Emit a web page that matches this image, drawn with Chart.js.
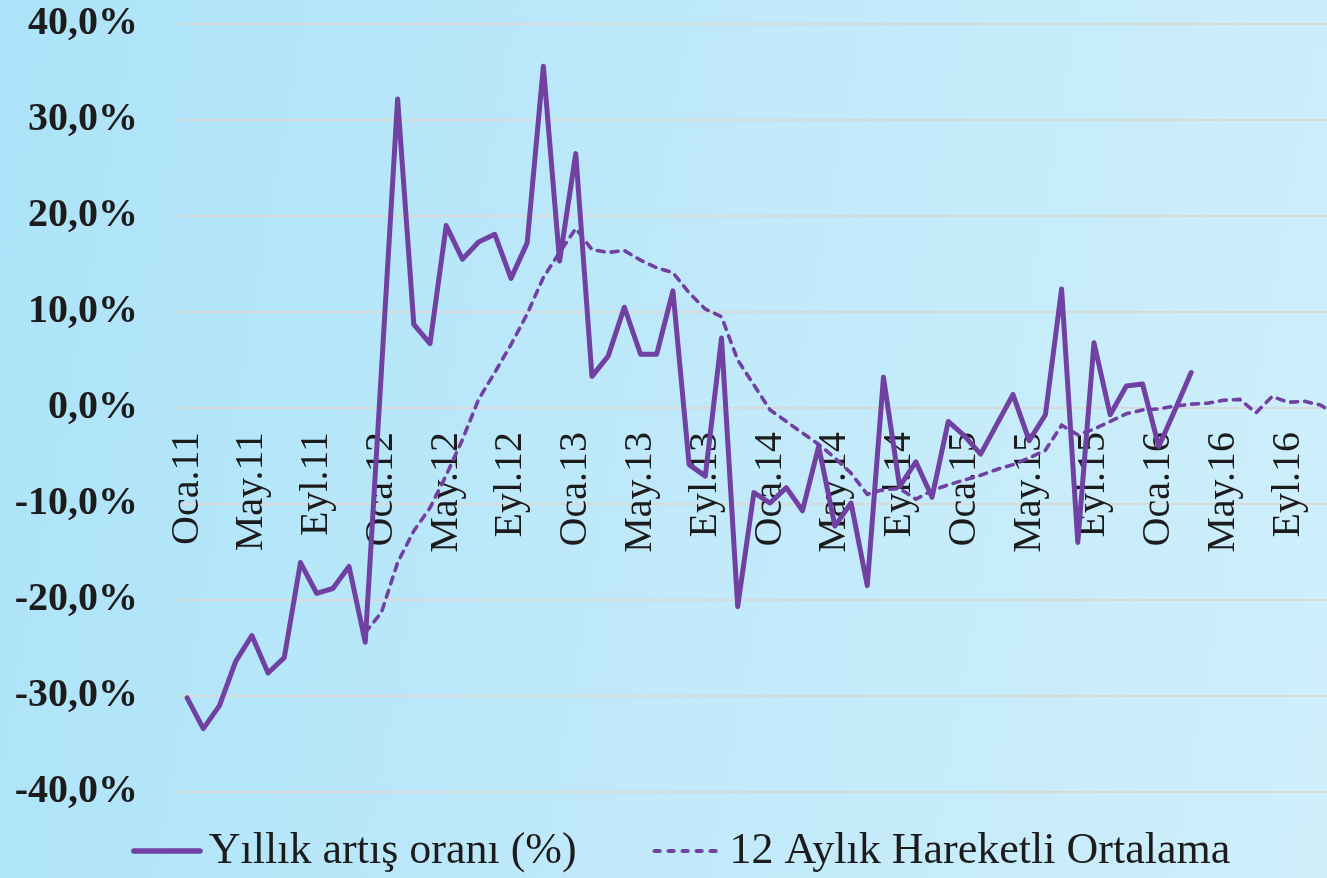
<!DOCTYPE html>
<html lang="tr">
<head>
<meta charset="utf-8">
<title>Yıllık artış oranı</title>
<script src="https://cdn.jsdelivr.net/npm/chart.js@4.4.0/dist/chart.umd.min.js"></script>
<style>
  html, body { margin: 0; padding: 0; width: 1327px; height: 878px; overflow: hidden;
    background: linear-gradient(100deg, #ace3f8 0%, #bfe9fa 50%, #cfeffb 100%); }
  #wrap { position: absolute; left: 0; top: 0; width: 1376px; height: 878px; }
</style>
</head>
<body>
<div id="wrap"><canvas id="c" width="1376" height="878"></canvas></div>
<script>
// ---- categories (Jan 2011 - Dec 2016) ----
const categories = [
  'Oca.11','Şub.11','Mar.11','Nis.11','May.11','Haz.11','Tem.11','Ağu.11','Eyl.11','Eki.11','Kas.11','Ara.11',
  'Oca.12','Şub.12','Mar.12','Nis.12','May.12','Haz.12','Tem.12','Ağu.12','Eyl.12','Eki.12','Kas.12','Ara.12',
  'Oca.13','Şub.13','Mar.13','Nis.13','May.13','Haz.13','Tem.13','Ağu.13','Eyl.13','Eki.13','Kas.13','Ara.13',
  'Oca.14','Şub.14','Mar.14','Nis.14','May.14','Haz.14','Tem.14','Ağu.14','Eyl.14','Eki.14','Kas.14','Ara.14',
  'Oca.15','Şub.15','Mar.15','Nis.15','May.15','Haz.15','Tem.15','Ağu.15','Eyl.15','Eki.15','Kas.15','Ara.15',
  'Oca.16','Şub.16','Mar.16','Nis.16','May.16','Haz.16','Tem.16','Ağu.16','Eyl.16','Eki.16','Kas.16','Ara.16'
];

// ---- series: yearly growth rate (%) ----
const yillikArtis = [
  -30.2, -33.4, -31.0, -26.4, -23.7, -27.6, -26.0, -16.1, -19.3, -18.8, -16.5, -24.4,
    3.9,  32.2,   8.7,   6.7,  19.0,  15.5,  17.3,  18.1,  13.5,  17.2,  35.6,  15.3,
   26.5,   3.3,   5.4,  10.5,   5.6,   5.6,  12.2,  -5.9,  -7.1,   7.3, -20.7,  -8.8,
   -9.9,  -8.3, -10.7,  -4.0, -12.3,  -9.9, -18.5,   3.2,  -8.2,  -5.6,  -9.3,  -1.4,
   -2.9,  -4.8,  -1.7,   1.4,  -3.4,  -0.7,  12.4, -14.0,   6.8,  -0.7,   2.3,   2.5,
   -4.0,  -0.2,   3.7,  null,  null,  null,  null,  null,  null,  null,  null,  null
];

// ---- series: 12-month moving average (%) ----
const hareketliOrtalama = [
   null,  null,  null,  null,  null,  null,  null,  null,  null,  null,  null, -23.4,
  -21.3, -16.1, -12.8, -10.4,  -7.0,  -3.3,   0.9,   3.7,   6.6,   9.8,  13.6,  16.2,
   18.7,  16.5,  16.2,  16.4,  15.4,  14.6,  14.1,  12.0,  10.3,   9.5,   5.0,   2.4,
   -0.2,  -1.4,  -2.6,  -3.8,  -5.2,  -6.8,  -9.0,  -8.5,  -8.4,  -9.5,  -8.6,  -8.0,
   -7.5,  -7.0,  -6.4,  -5.9,  -5.2,  -4.4,  -1.8,  -2.8,  -2.2,  -1.4,  -0.6,  -0.2,
   -0.1,   0.2,   0.4,   0.5,   0.8,   0.9,  -0.5,   1.2,   0.6,   0.7,   0.3,  -0.8
];

// ---- y tick values ----
const yTicks = [-40, -30, -20, -10, 0, 10, 20, 30, 40];
const seriesNames = ['Yıllık artış oranı (%)', '12 Aylık Hareketli Ortalama'];

const PURPLE = '#7040A2';
const SERIF = "'Liberation Serif', 'Times New Roman', serif";

// legend symbol: a short line sample, placed so it ends just before the text
function legendSample(lineWidth, dash) {
  const cv = document.createElement('canvas');
  cv.width = 104; cv.height = 10;
  const g = cv.getContext('2d');
  g.strokeStyle = PURPLE;
  g.lineWidth = lineWidth;
  g.lineCap = 'round';
  g.setLineDash(dash);
  g.beginPath();
  g.moveTo(35, 5); g.lineTo(101, 5);
  g.stroke();
  return cv;
}
const samples = [legendSample(5.5, []), legendSample(4, [5, 9])];

new Chart(document.getElementById('c'), {
  type: 'line',
  data: {
    labels: categories,
    datasets: [
      {
        label: seriesNames[0],
        data: yillikArtis,
        borderColor: PURPLE,
        backgroundColor: PURPLE,
        borderWidth: 5,
        borderJoinStyle: 'round',
        borderCapStyle: 'round',
        pointRadius: 0,
        tension: 0,
        fill: false
      },
      {
        label: seriesNames[1],
        data: hareketliOrtalama,
        borderColor: PURPLE,
        backgroundColor: PURPLE,
        borderWidth: 3.6,
        borderDash: [7, 7],
        borderCapStyle: 'round',
        pointRadius: 0,
        tension: 0,
        fill: false
      }
    ]
  },
  options: {
    responsive: false,
    devicePixelRatio: 1,
    animation: false,
    layout: { padding: { left: 0, right: 31, top: 24, bottom: 0 } },
    scales: {
      x: {
        type: 'category',
        offset: true,
        position: { y: 0 },
        grid: { display: false, drawTicks: false },
        border: { display: false },
        ticks: {
          autoSkip: false,
          minRotation: 90,
          maxRotation: 90,
          padding: 24,
          color: '#1c1c1c',
          font: { family: SERIF, size: 40 },
          callback: function (value, index) {
            return index % 4 === 0 ? categories[index] : '';
          }
        },
        afterFit: function (s) { s.height = 0; s.paddingLeft = 0; s.paddingRight = 0; }
      },
      y: {
        min: -40,
        max: 40,
        afterBuildTicks: function (s) { s.ticks = yTicks.map(v => ({ value: v })); },
        grid: { color: '#d9d9d9', lineWidth: 2, drawTicks: false },
        border: { display: false },
        ticks: {
          padding: 41,
          color: '#1c1c1c',
          font: { family: SERIF, size: 40, weight: 'bold' },
          callback: function (v) { return v.toFixed(1).replace('.', ',') + '%'; }
        },
        afterFit: function (s) { s.width = 179; s.paddingTop = 0; s.paddingBottom = 0; }
      }
    },
    plugins: {
      tooltip: { enabled: false },
      legend: {
        position: 'bottom',
        maxHeight: 86,
        labels: {
          usePointStyle: true,
          pointStyleWidth: 72,
          padding: 37,
          color: '#1c1c1c',
          font: { family: SERIF, size: 44 },
          generateLabels: function (chart) {
            const items = Chart.defaults.plugins.legend.labels.generateLabels(chart);
            items.forEach((it, i) => {
              it.pointStyle = samples[i];
              if (i === 0) it.text = it.text + '\u00A0\u00A0';
            });
            return items;
          }
        }
      }
    }
  }
});
</script>
</body>
</html>
